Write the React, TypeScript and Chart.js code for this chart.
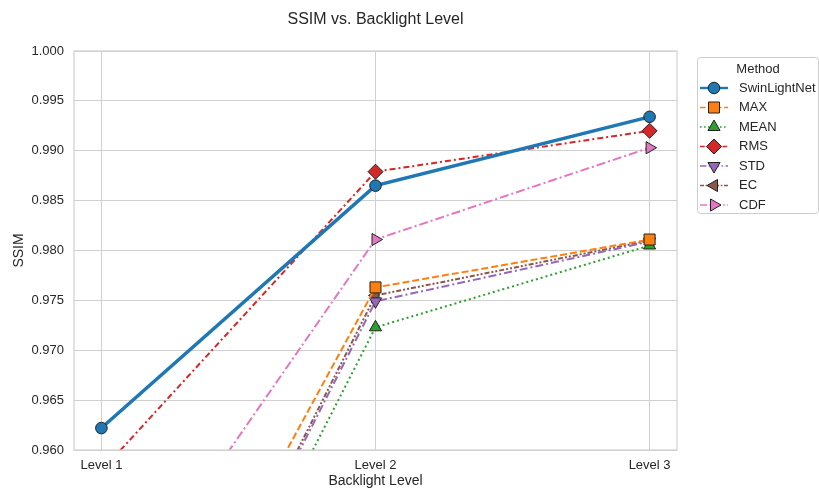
import React, { useEffect, useRef } from "react";
import { Chart, registerables } from "chart.js";

Chart.register(...registerables);

const levels = ["Level 1", "Level 2", "Level 3"];
const swinLightNet = [0.9622, 0.9865, 0.9934];
const maxVals = [0.9259, 0.9763, 0.9811];
const meanVals = [0.9185, 0.9723, 0.9805];
const rmsVals = [0.9579, 0.9879, 0.992];
const stdVals = [0.9209, 0.9749, 0.9809];
const ecVals = [0.921, 0.9755, 0.981];
const cdfVals = [0.9415, 0.9811, 0.9903];
const yTicks = [0.96, 0.965, 0.97, 0.975, 0.98, 0.985, 0.99, 0.995, 1.0];

const FONT = "'Liberation Sans', Arial, sans-serif";
const TXT = "#262626";
const GRID = "#d0d0d0";

type S = {
  label: string;
  data: number[];
  color: string;
  dash: number[];
  width: number;
  style: string;
  rot: number;
  radius: number;
};

const series: S[] = [
  { label: "SwinLightNet", data: swinLightNet, color: "#1f77b4", dash: [], width: 3.5, style: "circle", rot: 0, radius: 5.8 },
  { label: "MAX", data: maxVals, color: "#ff7f0e", dash: [7, 3], width: 2, style: "rect", rot: 0, radius: 7.8 },
  { label: "MEAN", data: meanVals, color: "#2ca02c", dash: [2, 3], width: 2, style: "triangle", rot: 0, radius: 7 },
  { label: "RMS", data: rmsVals, color: "#d62728", dash: [6, 3, 2, 3], width: 2, style: "rectRot", rot: 0, radius: 7.5 },
  { label: "STD", data: stdVals, color: "#9467bd", dash: [8, 3, 2, 3], width: 2, style: "triangle", rot: 180, radius: 7 },
  { label: "EC", data: ecVals, color: "#8c564b", dash: [5, 2, 2, 2, 2, 2], width: 2, style: "triangle", rot: -90, radius: 7 },
  { label: "CDF", data: cdfVals, color: "#e377c2", dash: [9, 3, 2, 3], width: 2, style: "triangle", rot: 90, radius: 7 },
];

function drawMarker(ctx: CanvasRenderingContext2D, s: S, x: number, y: number) {
  ctx.save();
  ctx.translate(x, y);
  ctx.rotate((s.rot * Math.PI) / 180);
  ctx.beginPath();
  const r = s.radius;
  if (s.style === "circle") {
    ctx.arc(0, 0, r, 0, Math.PI * 2);
  } else if (s.style === "rect") {
    const h = r * Math.SQRT1_2;
    ctx.rect(-h, -h, 2 * h, 2 * h);
  } else if (s.style === "rectRot") {
    ctx.moveTo(0, -r);
    ctx.lineTo(r, 0);
    ctx.lineTo(0, r);
    ctx.lineTo(-r, 0);
    ctx.closePath();
  } else {
    for (let k = 0; k < 3; k++) {
      const ang = -Math.PI / 2 + (k * 2 * Math.PI) / 3;
      const px = Math.cos(ang) * r;
      const py = Math.sin(ang) * r;
      if (k === 0) ctx.moveTo(px, py);
      else ctx.lineTo(px, py);
    }
    ctx.closePath();
  }
  ctx.fillStyle = s.color;
  ctx.fill();
  ctx.strokeStyle = "#222222";
  ctx.lineWidth = 1;
  ctx.stroke();
  ctx.restore();
}

const decorPlugin = {
  id: "decor",
  afterDraw(chart: any) {
    const ctx = chart.ctx as CanvasRenderingContext2D;
    const a = chart.chartArea;
    ctx.save();
    ctx.strokeStyle = GRID;
    ctx.lineWidth = 1.2;
    ctx.strokeRect(a.left, a.top, a.right - a.left, a.bottom - a.top);
    ctx.fillStyle = TXT;
    ctx.font = `16px ${FONT}`;
    ctx.textAlign = "center";
    ctx.textBaseline = "middle";
    ctx.fillText("SSIM vs. Backlight Level", (a.left + a.right) / 2, 20);
    ctx.font = `14px ${FONT}`;
    ctx.fillText("Backlight Level", (a.left + a.right) / 2, 481);
    ctx.save();
    ctx.translate(19, (a.top + a.bottom) / 2);
    ctx.rotate(-Math.PI / 2);
    ctx.fillText("SSIM", 0, 0);
    ctx.restore();
    // legend
    const bx = 697, by = 57, bw = 121, bh = 156;
    ctx.fillStyle = "rgba(255,255,255,0.9)";
    ctx.strokeStyle = "#cccccc";
    ctx.lineWidth = 1;
    ctx.beginPath();
    (ctx as any).roundRect(bx + 0.5, by + 0.5, bw, bh, 3);
    ctx.fill();
    ctx.stroke();
    ctx.fillStyle = TXT;
    ctx.font = `13px ${FONT}`;
    ctx.textAlign = "center";
    ctx.fillText("Method", 758, 69);
    series.forEach((s, i) => {
      const y = 88 + i * 19.5;
      ctx.save();
      ctx.strokeStyle = s.color;
      ctx.lineWidth = s.width === 2 ? 1.6 : 2.4;
      ctx.setLineDash(s.dash.map((d) => d * 0.8));
      ctx.beginPath();
      ctx.moveTo(700, y);
      ctx.lineTo(728, y);
      ctx.stroke();
      ctx.setLineDash([]);
      ctx.restore();
      drawMarker(ctx, s, 714, y);
      ctx.fillStyle = TXT;
      ctx.font = `13px ${FONT}`;
      ctx.textAlign = "left";
      ctx.textBaseline = "middle";
      ctx.fillText(s.label, 739, y);
    });
    ctx.restore();
  },
};

export default function App() {
  const ref = useRef<HTMLCanvasElement>(null);
  useEffect(() => {
    document.body.style.margin = "0";
    const canvas = ref.current!;
    const chart = new Chart(canvas, {
      type: "line",
      data: {
        datasets: series.map((s) => ({
          label: s.label,
          data: s.data.map((v, i) => ({ x: i, y: v })),
          borderColor: s.color,
          backgroundColor: s.color,
          borderWidth: s.width,
          borderDash: s.dash,
          pointStyle: s.style as any,
          rotation: s.rot,
          pointRadius: s.radius,
          pointBorderColor: "#222222",
          pointBorderWidth: 1,
          pointBackgroundColor: s.color,
          tension: 0,
        })),
      },
      options: {
        animation: false,
        responsive: false,
        maintainAspectRatio: false,
        events: [],
        layout: { padding: { top: 51, right: 142, left: 0, bottom: 0 } },
        plugins: { legend: { display: false }, title: { display: false }, tooltip: { enabled: false } },
        scales: {
          x: {
            type: "linear",
            min: -0.1,
            max: 2.1,
            border: { display: false },
            grid: { color: GRID, lineWidth: 1, drawTicks: false },
            afterBuildTicks: (scale: any) => {
              scale.ticks = levels.map((_, i) => ({ value: i }));
            },
            afterFit: (scale: any) => {
              scale.height = 39;
            },
            ticks: {
              padding: 8,
              color: TXT,
              font: { family: FONT, size: 13 },
              callback: (v: any) => levels[Math.round(Number(v))] ?? "",
              maxRotation: 0,
            },
          },
          y: {
            type: "linear",
            min: 0.96,
            max: 1.0,
            border: { display: false },
            grid: { color: GRID, lineWidth: 1, drawTicks: false },
            afterBuildTicks: (scale: any) => {
              scale.ticks = yTicks.map((v) => ({ value: v }));
            },
            afterFit: (scale: any) => {
              scale.width = 74;
            },
            ticks: {
              padding: 10,
              color: TXT,
              font: { family: FONT, size: 13 },
              callback: (v: any) => Number(v).toFixed(3),
            },
          },
        },
      },
      plugins: [decorPlugin],
    });
    return () => chart.destroy();
  }, []);
  return <canvas ref={ref} width={819} height={489} style={{ display: "block" }} />;
}
